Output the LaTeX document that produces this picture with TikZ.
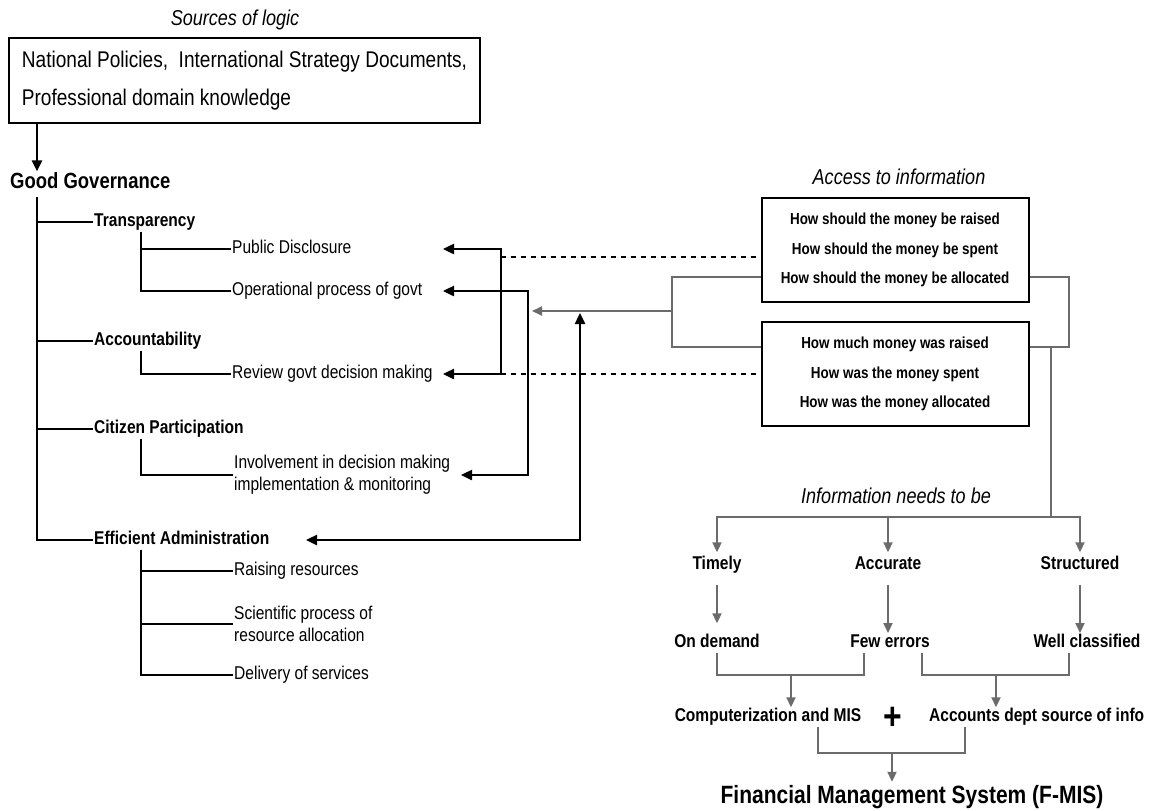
\documentclass[tikz,border=0pt]{standalone}
\usepackage{fontspec}
\setmainfont[FakeStretch=0.84]{Liberation Sans}
\usetikzlibrary{arrows.meta}
\newlength{\du}
\setlength{\du}{1pt}
\definecolor{dialinecolor}{rgb}{0.000000, 0.000000, 0.000000}
\definecolor{dialinegray}{rgb}{0.420000, 0.420000, 0.420000}
\tikzset{
  txt/.style={inner sep=1\du, text height=13\du, text depth=4\du, font=\fontsize{18.5}{22}\selectfont},
  bold/.style={txt, font=\fontsize{18.5}{22}\selectfont\bfseries},
  multi/.style={inner sep=1\du, align=left, font=\fontsize{18.5}{22}\selectfont},
  ttl/.style={inner sep=1\du, text height=15\du, text depth=5\du, font=\fontsize{21.5}{24}\selectfont\itshape},
  qbox/.style={draw=dialinecolor, line width=2\du, minimum width=267\du, minimum height=104\du, align=center, font=\fontsize{16}{29.5}\selectfont\bfseries},
  tree/.style={draw=dialinecolor, line width=1.8\du},
  blk/.style={draw=dialinecolor, line width=2.4\du, >={Triangle[length=11pt,width=10pt]}},
  gry/.style={draw=dialinegray, line width=2\du, >={Triangle[length=10pt,width=9pt]}},
  dotln/.style={draw=dialinecolor, line width=1.8\du, dash pattern=on 5\du off 5\du}
}
\begin{document}
\begin{tikzpicture}
\pgftransformxscale{1.000000}
\pgftransformyscale{-1.000000}
\useasboundingbox (0\du,0\du) rectangle (1152\du,811\du);
% sources
\node[ttl] (sources) at (235\du,20\du){Sources of logic};
\node[draw=dialinecolor, line width=2\du, minimum width=471\du, minimum height=85\du, align=left, font=\fontsize{22.7}{38}\selectfont] (srcbox) at (244.5\du,80.5\du){National Policies,~ International Strategy Documents,\\Professional domain knowledge};
\node[inner sep=1\du, text height=16\du, text depth=5\du, anchor=west, font=\fontsize{22}{26}\selectfont\bfseries] (gg) at (9\du,183\du){Good Governance};
% left tree
\node[bold, anchor=west] (transp) at (93\du,222\du){Transparency};
\node[txt, anchor=west] (pubdis) at (231\du,249\du){Public Disclosure};
\node[txt, anchor=west] (opproc) at (231\du,291\du){Operational process of govt};
\node[bold, anchor=west] (account) at (93\du,341\du){Accountability};
\node[txt, anchor=west] (review) at (231\du,374\du){Review govt decision making};
\node[bold, anchor=west] (citizen) at (93\du,429\du){Citizen Participation};
\node[multi, anchor=west] (involve) at (233\du,475\du){Involvement in decision making\\implementation \& monitoring};
\node[bold, anchor=west] (effadm) at (93\du,540\du){Efficient Administration};
\node[txt, anchor=west] (raising) at (233\du,571\du){Raising resources};
\node[multi, anchor=west] (scient) at (233\du,624\du){Scientific process of\\resource allocation};
\node[txt, anchor=west] (deliver) at (233\du,675\du){Delivery of services};
\coordinate (trunk) at (37\du,197\du);
\coordinate (subx) at (141\du,0\du);
\draw[blk,->] (srcbox.south -| trunk) -- (gg.north -| trunk);
\draw[tree] (trunk) |- (effadm.west);
\draw[tree] (trunk) |- (transp.west);
\draw[tree] (trunk) |- (account.west);
\draw[tree] (trunk) |- (citizen.west);
\draw[tree] (transp.south -| subx) |- (opproc.west);
\draw[tree] (transp.south -| subx) |- (pubdis.west);
\draw[tree] (account.south -| subx) |- (review.west);
\draw[tree] (citizen.south -| subx) |- (involve.west);
\draw[tree] (effadm.south -| subx) |- (deliver.west);
\draw[tree] (effadm.south -| subx) |- (scient.west);
\draw[tree] (effadm.south -| subx) |- (raising.west);
% access to information
\node[ttl] (access) at (899\du,179\du){Access to information};
\node[qbox] (qshould) at (895\du,250\du){How should the money be raised\\How should the money be spent\\How should the money be allocated};
\node[qbox] (qwas) at (895\du,374\du){How much money was raised\\How was the money spent\\How was the money allocated};
% black connectors
\coordinate (tipL) at (443\du,0\du);
\coordinate (tipI) at (461\du,0\du);
\coordinate (tipE) at (306\du,0\du);
\coordinate (brx) at (501\du,0\du);
\coordinate (opx) at (528\du,0\du);
\coordinate (upx) at (580\du,313\du);
\draw[blk,<->] (pubdis -| tipL) -- (pubdis -| brx) -- (review -| brx) -- (review -| tipL);
\draw[blk,<->] (opproc -| tipL) -- (opproc -| opx) -- (involve -| opx) -- (involve -| tipI);
\draw[blk,<->] (effadm -| tipE) -| (upx);
\coordinate (dotTop) at (501\du,257\du);
\draw[dotln] (dotTop) -- (qshould.west |- dotTop);
\draw[dotln] (review -| brx) -- (qwas.west |- review);
% gray connectors
\coordinate (glTop) at (672\du,277\du);
\coordinate (glMid) at (672\du,311\du);
\coordinate (glBot) at (672\du,347\du);
\coordinate (grTip) at (532\du,311\du);
\draw[gry] (qshould.west |- glTop) -- (glTop) -- (glBot) -- (qwas.west |- glBot);
\draw[gry,->] (glMid) -- (grTip);
\coordinate (grA) at (1069\du,277\du);
\coordinate (grB) at (1069\du,347\du);
\draw[gry] (qshould.east |- grA) -- (grA) -- (grB) -- (qwas.east |- grB);
% information needs
\node[ttl] (needs) at (896\du,498\du){Information needs to be};
\node[bold] (timely) at (717\du,565\du){Timely};
\node[bold] (accurate) at (888\du,565\du){Accurate};
\node[bold] (structured) at (1080\du,565\du){Structured};
\node[bold] (ondemand) at (717\du,643\du){On demand};
\node[bold] (fewerr) at (890\du,643\du){Few errors};
\node[bold] (wellcl) at (1087\du,643\du){Well classified};
\node[bold] (comp) at (768\du,717\du){Computerization and MIS};
\node[inner sep=0\du, font=\fontsize{38}{38}\selectfont\bfseries] (plus) at (893\du,718\du){+};
\node[bold, anchor=west] (accts) at (928\du,717\du){Accounts dept source of info};
\node[inner sep=1\du, text height=18\du, text depth=6\du, font=\fontsize{25}{28}\selectfont\bfseries] (fmis) at (912\du,797\du){Financial Management System (F-MIS)};
\coordinate (split) at (1051\du,517\du);
\draw[gry] (split |- grB) -- (split);
\draw[gry,->,shorten >=3\du] (split) -| (timely.north);
\draw[gry,->,shorten >=3\du] (split) -| (structured.north);
\draw[gry,->,shorten >=3\du] (accurate |- split) -- (accurate.north);
\draw[gry,->,shorten <=10\du,shorten >=10\du] (timely) -- (ondemand);
\draw[gry,->,shorten <=10\du,shorten >=10\du] (accurate) -- (accurate |- fewerr);
\draw[gry,->,shorten <=10\du,shorten >=10\du] (structured) -- (structured |- wellcl);
\coordinate (cL) at (864\du,675\du);
\coordinate (cArr) at (791\du,675\du);
\coordinate (aL) at (922\du,675\du);
\coordinate (aR) at (1069\du,675\du);
\coordinate (aArr) at (996\du,675\du);
\draw[gry] (ondemand.south) |- (cL) -- (cL |- fewerr.south);
\draw[gry,->] (cArr) -- (cArr |- comp.north);
\draw[gry] (fewerr.south -| aL) -- (aL) -- (aR) -- (wellcl.south -| aR);
\draw[gry,->] (aArr) -- (aArr |- accts.north);
\coordinate (fL) at (818\du,753\du);
\coordinate (fR) at (965\du,753\du);
\coordinate (fArr) at (892\du,753\du);
\draw[gry] (comp.south -| fL) -- (fL) -- (fR) -- (accts.south -| fR);
\draw[gry,->,shorten >=2\du] (fArr) -- (fArr |- fmis.north);
\end{tikzpicture}
\end{document}
